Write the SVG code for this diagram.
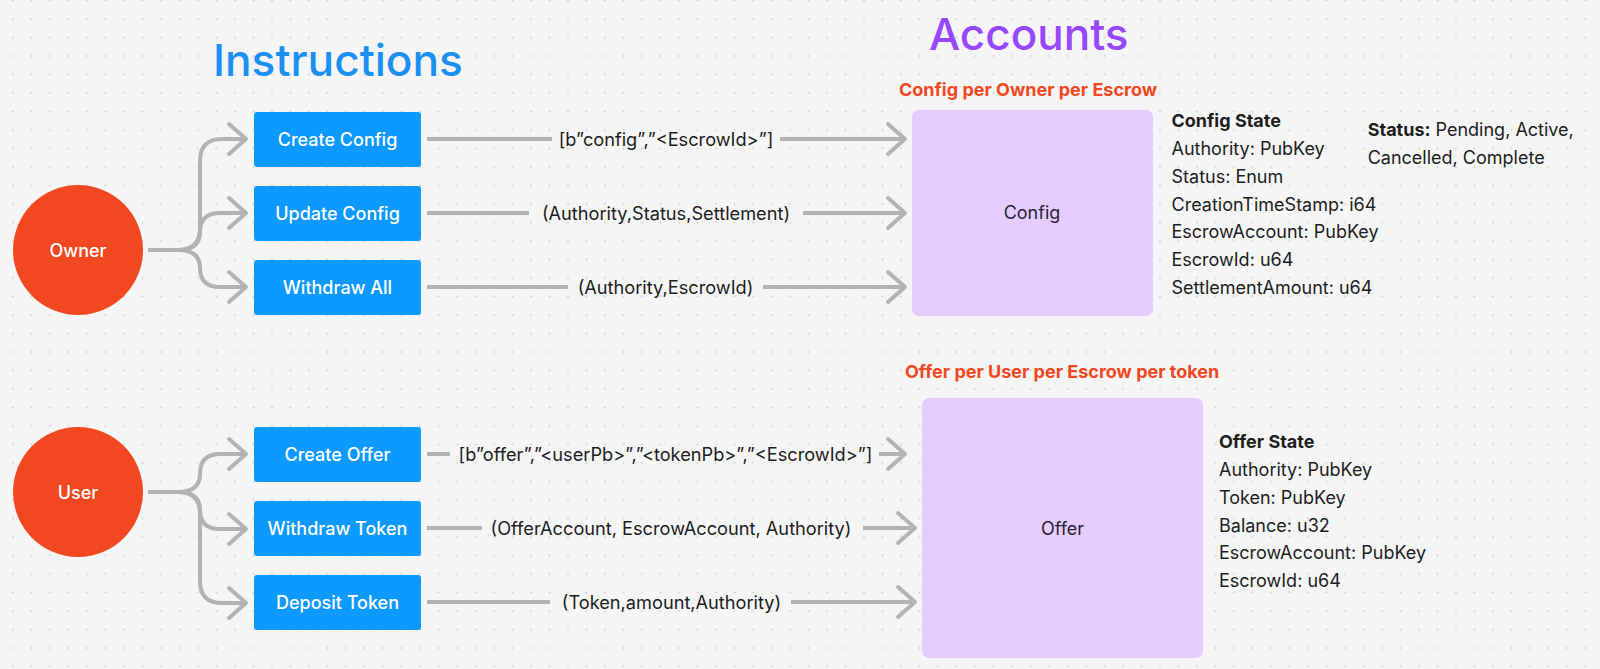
<svg xmlns="http://www.w3.org/2000/svg" width="1600" height="669" viewBox="0 0 1600 669">
<defs>
<pattern id="grid" x="3.75" y="-8.75" width="18.5" height="18.5" patternUnits="userSpaceOnUse">
<circle cx="9.25" cy="9.25" r="1" fill="#cfcfcf"/>
</pattern>
<marker id="arr" markerUnits="userSpaceOnUse" markerWidth="30" markerHeight="40" viewBox="-24 -20 30 40" refX="0" refY="0" orient="auto">
<path d="M-17,-15 L0,0 L-17,15" fill="none" stroke="#b3b3b3" stroke-width="4" stroke-linecap="round" stroke-linejoin="round"/>
</marker>
<style>
text{font-family:Inter,"Noto Sans","Liberation Sans",sans-serif;}
.btn{fill:#0d99ff;}
.btnt{fill:#ffffff;font-size:18px;text-anchor:middle;font-weight:500;}
.actor{fill:#f24822;}
.actt{fill:#ffffff;font-size:18px;text-anchor:middle;font-weight:500;}
.acc{fill:#e4ccff;}
.acct{fill:#2a1f35;font-size:18px;text-anchor:middle;}
.ln{fill:none;stroke:#b3b3b3;stroke-width:4;}
.lbl{fill:#1e1e1e;font-size:18.2px;text-anchor:middle;}
.st{fill:#1e1e1e;font-size:18px;}
.b{font-weight:700;}
.sub{fill:#f24822;font-size:18px;font-weight:700;}
.ttl{font-weight:500;}
</style>
</defs>
<rect x="0" y="0" width="1600" height="669" fill="#f5f5f5"/>
<rect x="0" y="0" width="1600" height="669" fill="url(#grid)"/>

<g id="titles">
<text class="ttl" x="213" y="76" font-size="44.2" fill="#1b90f2">Instructions</text>
<text class="ttl" x="929" y="50" font-size="44" fill="#9747ff">Accounts</text>
</g>

<g id="connectors">
<path class="ln" marker-end="url(#arr)" d="M148,250 H178 Q200,250 200,228 V161 Q200,139 222,139 H246"/>
<path class="ln" marker-end="url(#arr)" d="M148,250 H178 Q200,250 200,232 Q200,213 220,213 H246"/>
<path class="ln" marker-end="url(#arr)" d="M148,250 H178 Q200,250 200,268 Q200,287 220,287 H246"/>
<path class="ln" marker-end="url(#arr)" d="M148,492 H178 Q200,492 200,474 Q200,454 220,454 H246"/>
<path class="ln" marker-end="url(#arr)" d="M148,492 H178 Q200,492 200,510 Q200,529 220,529 H246"/>
<path class="ln" marker-end="url(#arr)" d="M148,492 H178 Q200,492 200,514 V581 Q200,603 222,603 H246"/>

<line class="ln" x1="427" y1="139" x2="552" y2="139"/>
<line class="ln" x1="780" y1="139" x2="905" y2="139" marker-end="url(#arr)"/>
<text class="lbl" x="666" y="145.5">[b”config”,”&lt;EscrowId&gt;”]</text>

<line class="ln" x1="427" y1="213" x2="529" y2="213"/>
<line class="ln" x1="803" y1="213" x2="905" y2="213" marker-end="url(#arr)"/>
<text class="lbl" x="666" y="219.5">(Authority,Status,Settlement)</text>

<line class="ln" x1="427" y1="287" x2="568" y2="287"/>
<line class="ln" x1="763" y1="287" x2="905" y2="287" marker-end="url(#arr)"/>
<text class="lbl" x="665.5" y="293.5">(Authority,EscrowId)</text>

<line class="ln" x1="427" y1="454" x2="450" y2="454"/>
<line class="ln" x1="879" y1="454" x2="905" y2="454" marker-end="url(#arr)"/>
<text class="lbl" x="665.5" y="460.5">[b”offer”,”&lt;userPb&gt;”,”&lt;tokenPb&gt;”,”&lt;EscrowId&gt;”]</text>

<line class="ln" x1="427" y1="528" x2="482" y2="528"/>
<line class="ln" x1="863" y1="528" x2="915" y2="528" marker-end="url(#arr)"/>
<text class="lbl" x="671" y="534.5">(OfferAccount, EscrowAccount, Authority)</text>

<line class="ln" x1="427" y1="602" x2="550" y2="602"/>
<line class="ln" x1="791" y1="602" x2="915" y2="602" marker-end="url(#arr)"/>
<text class="lbl" x="671.5" y="608.5">(Token,amount,Authority)</text>
</g>

<g id="owner"><circle class="actor" cx="78" cy="250" r="65"/><text class="actt" x="78" y="256.5">Owner</text></g>
<g id="user"><circle class="actor" cx="78" cy="492" r="65"/><text class="actt" x="78" y="498.5">User</text></g>

<g id="create-config"><rect class="btn" x="254" y="112" width="167" height="55" rx="3"/><text class="btnt" x="337.5" y="146">Create Config</text></g>
<g id="update-config"><rect class="btn" x="254" y="186" width="167" height="55" rx="3"/><text class="btnt" x="337.5" y="220">Update Config</text></g>
<g id="withdraw-all"><rect class="btn" x="254" y="260" width="167" height="55" rx="3"/><text class="btnt" x="337.5" y="294">Withdraw All</text></g>
<g id="create-offer"><rect class="btn" x="254" y="427" width="167" height="55" rx="3"/><text class="btnt" x="337.5" y="461">Create Offer</text></g>
<g id="withdraw-token"><rect class="btn" x="254" y="501" width="167" height="55" rx="3"/><text class="btnt" x="337.5" y="535">Withdraw Token</text></g>
<g id="deposit-token"><rect class="btn" x="254" y="575" width="167" height="55" rx="3"/><text class="btnt" x="337.5" y="609">Deposit Token</text></g>

<g id="config">
<text class="sub" x="899" y="96">Config per Owner per Escrow</text>
<rect class="acc" x="912" y="110" width="241" height="206" rx="7"/>
<text class="acct" x="1032" y="219">Config</text>
</g>
<g id="config-state">
<text class="st b" x="1171.5" y="127">Config State</text>
<text class="st" x="1171.5" y="155">Authority: PubKey</text>
<text class="st" x="1171.5" y="182.7">Status: Enum</text>
<text class="st" x="1171.5" y="210.5">CreationTimeStamp: i64</text>
<text class="st" x="1171.5" y="238.3">EscrowAccount: PubKey</text>
<text class="st" x="1171.5" y="266">EscrowId: u64</text>
<text class="st" x="1171.5" y="293.5">SettlementAmount: u64</text>
</g>
<g id="status-note">
<text class="st" x="1367.7" y="136"><tspan class="b">Status:</tspan> Pending, Active,</text>
<text class="st" x="1367.7" y="164">Cancelled, Complete</text>
</g>
<g id="offer">
<text class="sub" x="905" y="378">Offer per User per Escrow per token</text>
<rect class="acc" x="922" y="398" width="281" height="260" rx="7"/>
<text class="acct" x="1062.5" y="535">Offer</text>
</g>
<g id="offer-state">
<text class="st b" x="1219" y="448.3">Offer State</text>
<text class="st" x="1219" y="476">Authority: PubKey</text>
<text class="st" x="1219" y="504">Token: PubKey</text>
<text class="st" x="1219" y="531.7">Balance: u32</text>
<text class="st" x="1219" y="559.3">EscrowAccount: PubKey</text>
<text class="st" x="1219" y="586.7">EscrowId: u64</text>
</g>
</svg>
